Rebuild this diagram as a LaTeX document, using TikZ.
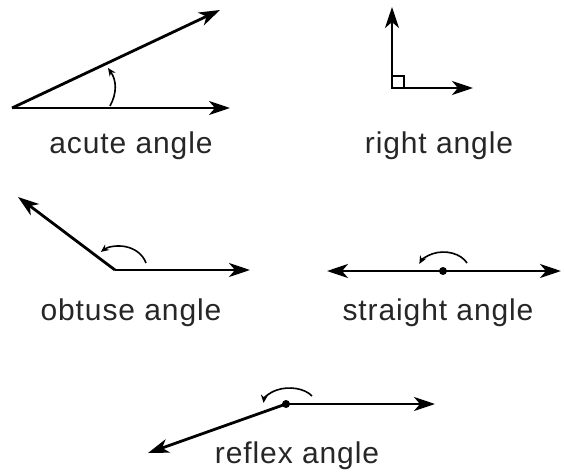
\documentclass[tikz,border=0pt]{standalone}
\usepackage{fontspec}
\setmainfont{Liberation Sans}
\newfontfamily\anglefont[LetterSpace=3]{Liberation Sans}
\usetikzlibrary{arrows.meta}
\begin{document}
\begin{tikzpicture}[
    x=1pt, y=1pt,
    ray/.style={line width=2.8pt, -{Stealth[length=21pt, width=14pt, inset=6pt]}},
    bothray/.style={line width=2.8pt, {Stealth[length=21pt, width=14pt, inset=6pt]}-{Stealth[length=21pt, width=14pt, inset=6pt]}},
    turn/.style={line width=1.6pt, -{Stealth[length=8pt, width=7pt]}},
    dot/.style={circle, fill, inner sep=0pt, minimum size=8pt},
    label/.style={anchor=base, text=black!85, font=\anglefont\fontsize{30}{36}\selectfont}
]
    \useasboundingbox (0,0) rectangle (564,475);

    % Acute angle
    \coordinate (acute) at (12,367);
    \coordinate (acutea) at (230,367);
    \coordinate (acuteb) at (220,465);
    \coordinate (acutes) at (110,369);
    \coordinate (acutee) at (108,407);
    \draw[ray] (acute) -- (acutea);
    \draw[ray] (acute) -- (acuteb);
    \draw[turn] (acutes) to[bend right=32] (acutee);
    \node[label] (acutetext) at (131,322) {acute angle};

    % Right angle
    \coordinate (right) at (392,387);
    \coordinate (righta) at (473,387);
    \coordinate (rightb) at (392,468);
    \draw[ray] (right) -- (righta);
    \draw[ray] (right) -- (rightb);
    \draw[line width=2pt] (right) rectangle ++(12,12);
    \node[label] (righttext) at (439,322) {right angle};

    % Obtuse angle
    \coordinate (obtuse) at (115,205);
    \coordinate (obtusea) at (250,205);
    \coordinate (obtuseb) at (18,278);
    \coordinate (obtuses) at (146,212);
    \draw[ray] (obtuse) -- (obtusea);
    \draw[ray] (obtuse) -- (obtuseb);
    \draw[turn] (obtuses) arc[start angle=17, end angle=131, x radius=28, y radius=24];
    \node[label] (obtusetext) at (131,155) {obtuse angle};

    % Straight angle
    \node[dot] (straight) at (443,204) {};
    \coordinate (straighta) at (561,204);
    \coordinate (straightb) at (327,204);
    \coordinate (straights) at (467,212);
    \draw[bothray] (straightb) -- (straighta);
    \draw[turn] (straights) arc[start angle=25, end angle=158, x radius=26, y radius=19];
    \node[label] (straighttext) at (438,155) {straight angle};

    % Reflex angle
    \node[dot] (reflex) at (286,71) {};
    \coordinate (reflexa) at (435,71);
    \coordinate (reflexb) at (148,22);
    \coordinate (reflexs) at (312,79);
    \draw[ray] (reflex.center) -- (reflexa);
    \draw[ray] (reflex.center) -- (reflexb);
    \draw[turn] (reflexs) arc[start angle=30, end angle=176, x radius=26, y radius=16];
    \node[label] (reflextext) at (297,12) {reflex angle};
\end{tikzpicture}
\end{document}
